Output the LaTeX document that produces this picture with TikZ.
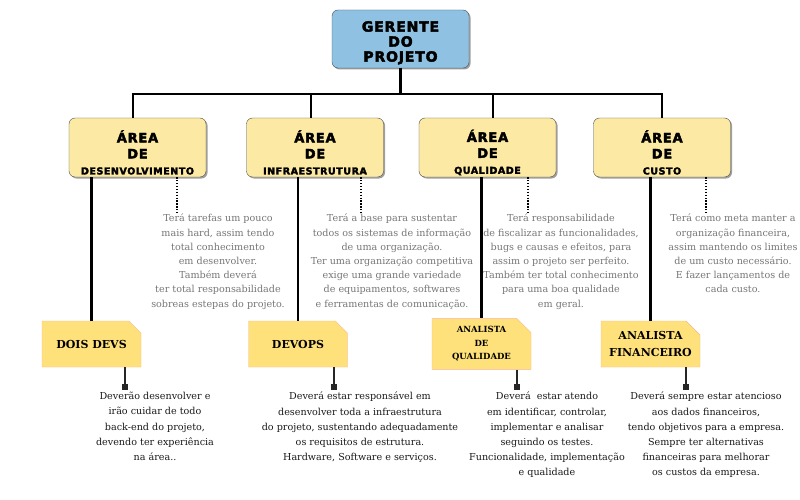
\documentclass[tikz,border=0pt]{standalone}
\usepackage{fontspec}
\setmainfont{DejaVu Serif}
\newfontfamily\blocofont{DejaVu Sans}[LetterSpace=6, BoldFeatures={FakeBold=3}]
\usetikzlibrary{positioning,shapes.misc,shadows,arrows.meta}

\definecolor{chefe}{RGB}{143,194,226}
\definecolor{areacor}{RGB}{252,233,163}
\definecolor{notacor}{RGB}{255,225,124}
\definecolor{notaborda}{RGB}{247,181,143}
\definecolor{cinza}{RGB}{118,118,118}

\tikzset{
  chefebox/.style={draw=black!70, fill=chefe, rounded corners=6pt,
    minimum width=137pt, minimum height=58pt, align=center, inner ysep=1pt,
    font=\blocofont\bfseries\fontsize{14}{15}\selectfont,
    drop shadow={shadow xshift=1.5pt, shadow yshift=-1.5pt, fill=black!75}},
  areabox/.style={chefebox, fill=areacor, minimum height=59pt,
    font=\blocofont\bfseries\fontsize{13}{16}\selectfont},
  notabox/.style={chamfered rectangle, chamfered rectangle corners=north east,
    chamfered rectangle xsep=7pt, chamfered rectangle ysep=7pt,
    draw=notaborda, fill=notacor, minimum width=99pt, minimum height=46pt,
    inner sep=1pt, align=center},
  cima/.style={font=\fontsize{9.6}{14.2}\selectfont, text=cinza, align=center, anchor=north, inner sep=0pt},
  baixo/.style={font=\fontsize{9.6}{15.2}\selectfont, text=black!90, align=center, anchor=north, inner sep=0pt},
  tronco/.style={line width=2.6pt, black},
  pontos/.style={line width=1.3pt, dash pattern=on 1.3pt off 1.6pt},
  fio/.style={line width=1.6pt, black!85, -{Square[length=6pt,width=6pt]}}
}
\newcommand\topo[1]{\rule{0pt}{#1}}
\newcommand\areanome[1]{{\fontsize{9.5}{16}\selectfont #1}}

\begin{document}
\begin{tikzpicture}[x=1pt,y=-1pt]
    \useasboundingbox (0,0) rectangle (800,500);

    \node (gp) [chefebox] at (400.5,39) {\topo{18pt}GERENTE\\DO\\PROJETO};

    \node (a1) [areabox] at (137.5,147.5) {\topo{22pt}ÁREA\\DE\\\areanome{DESENVOLVIMENTO}};
    \node (a2) [areabox] at (315,147.5) {\topo{22pt}ÁREA\\DE\\\areanome{INFRAESTRUTURA}};
    \node (a3) [areabox] at (487.5,147.5) {\topo{22pt}ÁREA\\DE\\\areanome{QUALIDADE}};
    \node (a4) [areabox] at (662,147.5) {\topo{22pt}ÁREA\\DE\\\areanome{CUSTO}};

    \node (n1) [notabox, font=\bfseries\fontsize{11}{14}\selectfont] at (91.5,344) {DOIS DEVS};
    \node (n2) [notabox, font=\bfseries\fontsize{11}{14}\selectfont] at (298,344) {DEVOPS};
    \node (n3) [notabox, font=\bfseries\fontsize{8.5}{13.5}\selectfont] at (481.5,344) {ANALISTA\\DE\\QUALIDADE};
    \node (n4) [notabox, font=\bfseries\fontsize{11}{17}\selectfont] at (650.5,344) {ANALISTA\\FINANCEIRO};

    \node (t1) [cima] at (218,214) {Terá tarefas um pouco\\mais hard, assim tendo\\total conhecimento\\em desenvolver.\\Também deverá\\ter total responsabilidade\\sobreas estepas do projeto.};
    \node (t2) [cima] at (392,214) {Terá a base para sustentar\\todos os sistemas de informação\\de uma organização.\\Ter uma organização competitiva\\exige uma grande variedade\\de equipamentos, softwares\\e ferramentas de comunicação.};
    \node (t3) [cima] at (561,214) {Terá responsabilidade\\de fiscalizar as funcionalidades,\\bugs e causas e efeitos, para\\assim o projeto ser perfeito.\\Também ter total conhecimento\\para uma boa qualidade\\em geral.};
    \node (t4) [cima] at (733,214) {Terá como meta manter a\\organização financeira,\\assim mantendo os limites\\de um custo necessário.\\E fazer lançamentos de\\cada custo.};

    \node (l1) [baixo] at (155,392) {Deverão desenvolver e\\irão cuidar de todo\\back-end do projeto,\\devendo ter experiência\\na área..};
    \node (l2) [baixo] at (360,392) {Deverá estar responsável em\\desenvolver toda a infraestrutura\\do projeto, sustentando adequadamente\\os requisitos de estrutura.\\Hardware, Software e serviços.};
    \node (l3) [baixo] at (547,392) {Deverá\ \ estar atendo\\em identificar, controlar,\\implementar e analisar\\seguindo os testes.\\Funcionalidade, implementação\\e qualidade};
    \node (l4) [baixo] at (706,392) {Deverá sempre estar atencioso\\aos dados financeiros,\\tendo objetivos para a empresa.\\Sempre ter alternativas\\financeiras para melhorar\\os custos da empresa.};

    \coordinate (b1) at (133,94);
    \coordinate (b2) at (311,94);
    \coordinate (b3) at (493,94);
    \coordinate (b4) at (662,94);
    \draw [tronco, line cap=rect] (b1) -- (b4);
    \path (gp.south) edge[tronco] (gp.south |- b1);
    \path (b1) edge[tronco] (b1 |- a1.north);
    \path (b2) edge[tronco] (b2 |- a2.north);
    \path (b3) edge[tronco] (b3 |- a3.north);
    \path (b4) edge[tronco] (b4 |- a4.north);

    \path (n1.north |- a1.south) edge[tronco] (n1.north);
    \path (n2.north |- a2.south) edge[tronco] (n2.north);
    \path (n3.north |- a3.south) edge[tronco] (n3.north);
    \path (n4.north |- a4.south) edge[tronco] (n4.north);

    \coordinate (d1) at (177,0);
    \coordinate (d2) at (361,0);
    \coordinate (d3) at (528,0);
    \coordinate (d4) at (706,0);
    \path (d1 |- a1.south) edge[pontos] (d1 |- t1.north);
    \path (d2 |- a2.south) edge[pontos] (d2 |- t2.north);
    \path (d3 |- a3.south) edge[pontos] (d3 |- t3.north);
    \path (d4 |- a4.south) edge[pontos] (d4 |- t4.north);

    \coordinate (q1) at (125,390);
    \coordinate (q2) at (334,390);
    \coordinate (q3) at (517,390);
    \coordinate (q4) at (686,390);
    \path (q1 |- n1.south) edge[fio] (q1);
    \path (q2 |- n2.south) edge[fio] (q2);
    \path (q3 |- n3.south) edge[fio] (q3);
    \path (q4 |- n4.south) edge[fio] (q4);
\end{tikzpicture}
\end{document}
